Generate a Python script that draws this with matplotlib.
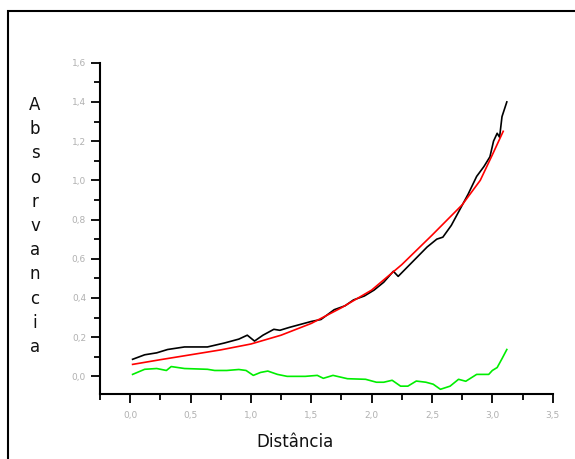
import matplotlib
matplotlib.use("Agg")
import matplotlib.pyplot as plt
from matplotlib.patches import Rectangle
from matplotlib.ticker import MultipleLocator, FuncFormatter

# black: measured absorbance
black_x = [0.02, 0.12, 0.22, 0.31, 0.45, 0.64, 0.78, 0.90, 0.97, 1.03, 1.10, 1.19,
           1.24, 1.32, 1.41, 1.50, 1.58, 1.69, 1.78, 1.85, 1.94, 2.02, 2.10, 2.18,
           2.22, 2.30, 2.38, 2.46, 2.54, 2.59, 2.66, 2.73, 2.80, 2.87, 2.93, 2.98,
           3.01, 3.04, 3.06, 3.08, 3.12]
black_y = [0.087, 0.11, 0.12, 0.137, 0.15, 0.15, 0.17, 0.19, 0.21, 0.18, 0.21, 0.24,
           0.235, 0.25, 0.265, 0.28, 0.29, 0.34, 0.36, 0.39, 0.41, 0.44, 0.48, 0.536,
           0.51, 0.56, 0.61, 0.66, 0.70, 0.71, 0.77, 0.85, 0.93, 1.02, 1.07, 1.12,
           1.20, 1.24, 1.22, 1.325, 1.40]

# red: fitted curve
red_x = [0.02, 0.25, 0.50, 0.75, 1.00, 1.25, 1.50, 1.75, 2.00, 2.25, 2.50, 2.75,
         2.90, 3.00, 3.09]
red_y = [0.061, 0.085, 0.11, 0.135, 0.165, 0.21, 0.27, 0.35, 0.44, 0.57, 0.72, 0.875,
         1.0, 1.13, 1.25]

# green: difference
green_x = [0.02, 0.12, 0.22, 0.30, 0.34, 0.45, 0.64, 0.70, 0.80, 0.90, 0.96, 1.02,
           1.08, 1.14, 1.22, 1.30, 1.45, 1.55, 1.60, 1.68, 1.80, 1.95, 2.04, 2.10,
           2.17, 2.24, 2.30, 2.37, 2.45, 2.51, 2.57, 2.65, 2.72, 2.78, 2.87, 2.97,
           3.00, 3.04, 3.08, 3.12]
green_y = [0.01, 0.036, 0.04, 0.03, 0.05, 0.04, 0.036, 0.03, 0.03, 0.035, 0.03, 0.005,
           0.02, 0.027, 0.01, 0.0, 0.0, 0.005, -0.01, 0.005, -0.012, -0.015, -0.03, -0.03,
           -0.02, -0.05, -0.05, -0.024, -0.03, -0.04, -0.066, -0.05, -0.015, -0.025, 0.01, 0.01,
           0.03, 0.045, 0.09, 0.137]

fig = plt.figure(figsize=(5.75, 4.59), dpi=100)
fig.patches.append(Rectangle((8 / 575, -0.1), 1.0, 1 - 11 / 459 + 0.1,
                             transform=fig.transFigure, fill=False,
                             edgecolor="black", linewidth=1.5))

ax = fig.add_axes([100 / 575, 65 / 459, (552.7 - 100) / 575, (394 - 62.7) / 459])
ax.plot(black_x, black_y, color="black", lw=1.2)
ax.plot(red_x, red_y, color="red", lw=1.2)
ax.plot(green_x, green_y, color="#00ee00", lw=1.2)

ax.set_xlim(-0.25, 3.5)
ax.set_ylim(-0.09, 1.6)
for s in ["top", "right"]:
    ax.spines[s].set_visible(False)
for s in ["left", "bottom"]:
    ax.spines[s].set_linewidth(1.5)

comma = FuncFormatter(lambda v, p: f"{v:.1f}".replace(".", ","))
ax.xaxis.set_major_locator(MultipleLocator(0.5))
ax.xaxis.set_minor_locator(MultipleLocator(0.25))
ax.yaxis.set_major_locator(MultipleLocator(0.2))
ax.yaxis.set_minor_locator(MultipleLocator(0.1))
ax.xaxis.set_major_formatter(comma)
ax.yaxis.set_major_formatter(comma)
ax.tick_params(which="major", length=6.5, width=1.3, labelsize=6.5,
               labelcolor="#b0b0b0", direction="out")
ax.tick_params(which="minor", length=4, width=1.3, direction="out")
ax.tick_params(axis="x", which="major", pad=6)

fig.text(295 / 575, 1 - 442 / 459, "Distância", ha="center", va="center",
         fontsize=12, color="#111111")
ylabel = "Absorvancia"
for i, ch in enumerate(ylabel):
    yy = 105 + i * 24.2
    fig.text(35 / 575, 1 - yy / 459, ch, ha="center", va="center",
             fontsize=12, color="#111111")

fig.savefig("out.png", dpi=100)
